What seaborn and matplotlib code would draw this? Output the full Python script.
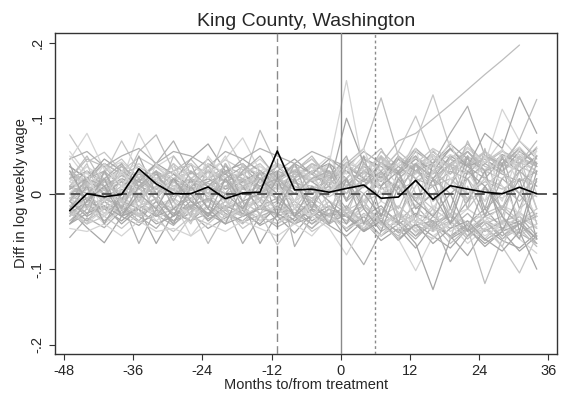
import matplotlib
matplotlib.use('Agg')
import matplotlib.pyplot as plt
import seaborn as sns
import pandas as pd
import numpy as np

# quarterly event time, months relative to treatment
months = [-47, -44, -41, -38, -35, -32, -29, -26, -23, -20, -17, -14, -11,
          -8, -5, -2, 1, 4, 7, 10, 13, 16, 19, 22, 25, 28, 31, 34]

# treated unit gap (King County), log points
king_gap = [-0.0225, 0.0, -0.004, -0.001, 0.033, 0.013, 0.0, 0.0, 0.009, -0.0066,
            0.001, 0.002, 0.0566, 0.005, 0.006, 0.002, 0.007, 0.0115, -0.006, -0.0044,
            0.0177, -0.0075, 0.0106, 0.0062, 0.002, 0.0, 0.0085, 0.0]

# placebo gaps, in thousandths of a log point
placebo_gaps = [
    [78, 42, 55, 30, 48, 35, 20, 38, 28, 45, 32, 25, 40, 28, 35, 18, 42, 30, 48, 25, 38, 52, 32, 48, 42, 58, 38, 62],
    [-58, -32, -45, -22, -38, -28, -42, -18, -33, -22, -38, -28, -44, -32, -22, -38, -28, -48, -32, -52, -42, -36, -58, -42, -62, -46, -52, -66],
    [45, 80, 32, 42, 22, 36, 26, 16, 32, 22, 28, 36, 22, 32, 18, 26, 38, 22, 42, 26, 48, 36, 58, 42, 32, 48, 52, 42],
    [-22, -45, -65, -30, -42, -22, -36, -26, -46, -32, -22, -42, -30, -52, -26, -42, -56, -36, -62, -46, -72, -42, -56, -82, -46, -62, -72, -52],
    [8, 22, 4, 16, -2, 20, 10, 4, 14, 0, 10, 20, 6, 14, 10, 4, 12, 8, 40, 70, 80, 99, 118, 138, 158, 177, 197, np.nan],
    [30, 12, 26, 70, 30, 16, 40, 20, 10, 30, 14, 26, 10, 20, 36, 14, 30, 10, 26, 46, 20, 40, 26, 50, 30, 20, 42, 30],
    [-36, -14, -30, -10, -66, -20, -40, -24, -10, -30, -16, -36, -20, -26, -10, -30, -16, -40, -20, -36, -56, -30, -46, -26, -50, -36, -40, -30],
    [56, 26, 40, 16, 80, 36, 50, 20, 36, 16, 30, 46, 24, 36, 20, 40, 26, 50, 30, 46, 26, 56, 36, 62, 40, 72, 46, 56],
    [-10, -30, -16, -40, -20, -66, -26, -36, -16, -30, -20, -10, -36, -20, -40, -26, -30, -50, -36, -62, -40, -56, -72, -46, -66, -50, -76, -56],
    [20, 46, 36, 10, 56, 78, 30, 46, 20, 36, 26, 40, 16, 30, 46, 26, 40, 20, 56, 36, 50, 30, 46, 66, 40, 56, 46, 36],
    [-30, -10, -36, -20, -10, -26, -62, -30, -16, -36, -10, -26, -16, -30, -14, -36, -22, -10, -40, -26, -46, -20, -36, -56, -30, -40, -24, -46],
    [10, 30, 16, 36, 20, 40, 70, 26, 46, 20, 36, 14, 30, 22, 40, 26, 10, 36, 22, 46, 30, 56, 36, 26, 50, 36, 60, 40],
    [-26, -40, -20, -36, -16, -30, -10, -56, -26, -40, -20, -36, -12, -30, -46, -20, -36, -16, -42, -26, -52, -36, -20, -46, -30, -56, -36, -26],
    [36, 20, 40, 26, 10, 30, 16, 46, 66, 30, 40, 20, 36, 16, 30, 40, 20, 46, 36, 26, 56, 40, 66, 46, 30, 52, 40, 60],
    [-16, -36, -20, -10, -30, -16, -36, -20, -66, -26, -40, -16, -30, -40, -20, -30, -46, -26, -40, -56, -30, -46, -36, -60, -40, -30, -52, -40],
    [26, 10, 30, 46, 20, 36, 16, 30, 20, 76, 36, 26, 40, 30, 46, 20, 36, 26, 50, 30, 40, 60, 46, 30, 56, 40, 30, 50],
    [-40, -20, -36, -16, -30, -46, -20, -36, -26, -16, -66, -30, -20, -36, -22, -40, -26, -16, -36, -50, -30, -46, -26, -56, -36, -46, -30, -56],
    [16, 36, 20, 30, 40, 20, 36, 14, 30, 46, 74, 30, 40, 26, 36, 20, 46, 30, 20, 40, 60, 36, 52, 40, 26, 46, 62, 36],
    [-20, -6, -26, -10, -20, -6, -30, -16, -6, -20, -10, -66, -26, -14, -36, -20, -50, -30, -16, -40, -26, -36, -56, -40, -20, -46, -36, -60],
    [30, 16, 40, 26, 36, 20, 30, 40, 20, 30, 16, 84, 36, 20, 40, 30, 20, 46, 30, 56, 36, 26, 46, 36, 56, 30, 46, 40],
    [-6, -26, -10, -30, -16, -6, -26, -14, -36, -20, -10, -26, -68, -36, -16, -30, -40, -20, -46, -26, -36, -50, -30, -40, -60, -36, -30, -46],
    [6, 20, 30, 10, 26, 16, 6, 20, 10, 30, 20, 10, 26, -70, -30, -10, -26, -46, -20, -36, -16, -40, -26, -50, -30, -20, -40, -26],
    [20, 6, 16, 30, 10, 26, 14, 30, 20, 6, 26, 14, 20, 36, 20, 40, 150, 30, 46, 20, 36, 50, 26, 40, 30, 50, 36, 26],
    [0, 16, 6, 20, 10, 0, 20, 6, 16, 26, 10, 20, 30, 46, 26, 10, 100, 40, 20, 50, 30, 40, 60, 36, 46, 30, 56, 40],
    [-10, 6, -6, 10, 0, 16, 6, -6, 10, 20, 0, 10, -6, 16, 30, 10, 40, 60, 127, 50, 30, 46, 26, 56, 36, 30, 50, 36],
    [10, -6, 6, -10, 16, 0, 10, 20, 0, 10, 26, 6, 16, 0, 20, 36, 16, 30, 50, 26, 70, 131, 60, 40, 56, 36, 46, 30],
    [0, 10, -10, 6, -6, 10, 0, 16, 6, -6, 10, 0, 20, 10, 0, 20, 30, 10, 40, 30, 60, 40, 80, 116, 50, 40, 70, 46],
    [16, 0, 10, 26, 6, 20, 10, 0, 20, 10, 6, 16, 0, 20, 6, 26, 10, 30, 16, 40, 26, 50, 36, 60, 40, 112, 70, 50],
    [6, 20, 0, 16, 6, 26, 0, 10, 20, 6, 16, 30, 10, 26, 16, 0, 36, 20, 10, 46, 30, 20, 50, 36, 80, 60, 128, 80],
    [-6, 10, 0, -10, 6, -6, 16, 0, -10, 10, 0, -6, 10, 0, -10, 6, 16, 0, 20, 10, 30, 16, 40, 26, 50, 36, 71, 125],
    [26, 10, 20, 0, 16, 30, 10, 20, 36, 16, 6, 20, 10, 26, 16, 30, 20, 46, 30, 56, 103, 46, 36, 56, 30, 46, 36, 26],
    [-20, -36, -10, -26, -6, -20, -36, -16, -26, -10, -30, -20, -10, -30, -46, -26, -60, -94, -50, -36, -56, -40, -30, -50, -36, -60, -40, -30],
    [-6, -20, -30, -10, -26, -16, -6, -30, -20, -36, -16, -6, -20, -10, -26, -36, -20, -46, -30, -60, -102, -56, -40, -66, -46, -36, -56, -40],
    [-26, -10, -20, -36, -16, -30, -20, -6, -36, -16, -26, -40, -16, -36, -20, -30, -46, -30, -56, -40, -66, -127, -60, -46, -70, -50, -40, -60],
    [0, -16, -6, -20, -30, -10, -20, -36, -6, -20, -30, -16, -26, -10, -26, -40, -20, -36, -56, -30, -50, -40, -66, -46, -119, -60, -46, -70],
    [-16, 0, -20, -6, -16, -26, -6, -20, -30, -10, -20, -6, -30, -20, -6, -20, -36, -16, -40, -26, -46, -60, -36, -56, -46, -70, -105, -56],
    [-10, -26, -6, -16, -36, -10, -26, -16, -6, -26, -36, -16, -6, -26, -40, -20, -30, -50, -26, -40, -60, -36, -90, -56, -36, -56, -40, -66],
    [-30, -16, -40, -20, -6, -36, -16, -26, -10, -30, -20, -30, -40, -20, -30, -46, -81, -40, -56, -30, -46, -26, -50, -36, -56, -40, -60, -79],
    [-40, -26, -16, -30, -20, -40, -30, -10, -26, -40, -30, -20, -26, -40, -30, -16, -30, -50, -36, -60, -40, -66, -46, -36, -60, -76, -50, -100],
    [10, -6, 16, 0, 20, 6, -4, 10, 0, 16, 6, 0, 14, 6, -6, 10, 0, 20, 6, 16, -6, 10, 20, 0, 16, 6, 20, 10],
    [-6, 6, -10, 4, -4, 10, 0, -10, 6, -4, 10, -6, 0, -10, 6, -4, 10, -10, 0, 10, -16, 0, 10, -10, 6, -6, 10, -4],
    [20, 30, 10, 24, 16, 6, 26, 10, 30, 16, 26, 10, 20, 30, 16, 24, 10, 30, 16, 36, 20, 10, 30, 20, 40, 26, 16, 30],
    [-20, -10, -26, -14, -6, -20, -10, -30, -16, -6, -20, -10, -26, -14, -30, -10, -20, -30, -10, -24, -40, -16, -30, -20, -36, -16, -26, -36],
    [36, 20, 46, 30, 16, 40, 26, 10, 40, 26, 46, 30, 16, 40, 26, 46, 30, 16, 40, 26, 46, 30, 60, 36, 20, 46, 30, 50],
    [0, 14, 20, -6, 10, 20, 4, 16, -4, 10, 20, 6, -6, 16, 4, 20, -6, 10, 26, 6, 16, 30, 10, -6, 20, 10, -10, 16],
    [-26, -40, -30, -46, -26, -36, -50, -30, -40, -20, -46, -30, -40, -26, -50, -36, -20, -40, -30, -16, -36, -50, -20, -40, -26, -16, -36, -20],
    [46, 56, 36, 50, 60, 40, 56, 50, 36, 56, 46, 60, 50, 40, 56, 46, 36, 56, 40, 30, 50, 20, 40, 56, 30, 40, 60, 36],
    [-46, -50, -40, -56, -36, -50, -46, -56, -40, -50, -36, -46, -56, -40, -56, -30, -46, -36, -20, -46, -30, -50, -40, -20, -36, -50, -26, -44],
    [40, -20, 30, -10, 50, 0, -30, 20, -20, 40, -10, 30, -30, 20, -20, 40, -10, 50, -30, 30, -40, 40, -20, 50, -30, 40, -50, 30],
    [-30, 20, -10, 40, -20, 30, 10, -30, 40, -10, 20, -30, 30, -20, 10, -30, 40, -20, 50, -30, 20, -50, 40, -20, 60, -30, 30, -40],
    [10, 40, -20, 20, -30, 10, 40, -10, 30, -20, 40, 0, 30, -10, 40, 10, -30, 30, -10, 50, 0, -30, 50, -10, 30, -40, 50, -20],
    [-10, -30, 30, -20, 20, -30, 0, 40, -10, 20, -30, 30, -10, 40, -20, 20, 50, -20, 30, -40, 40, 10, -30, 40, -20, 50, -20, 40],
    [20, 0, 40, 10, -20, 40, 10, -10, 50, 20, -10, 40, 10, -20, 30, 50, 10, -20, 40, 10, -20, 60, 20, -10, 50, 10, -30, 60],
    [-20, 10, -40, 0, 30, -10, -40, 10, -20, -40, 10, -20, 20, -30, -10, -40, 20, -20, -50, 10, -30, 20, -40, -10, 30, -50, 0, -30],
    [30, 10, 0, 30, -10, 20, 30, 0, -10, 30, 20, -10, 40, 10, -10, 30, 0, 40, 10, -20, 30, 10, 40, -20, 10, 30, 0, 20],
    [0, -20, 20, -10, 10, -20, 20, 30, 0, -20, 10, 30, -10, 0, 30, -20, 10, -10, 30, -30, 10, 40, -30, 20, -10, 20, 40, -20],
    [-10, 20, 10, -20, 30, 0, 20, -20, 10, 30, -20, 10, 20, 40, 0, 10, -20, 20, -40, 20, 40, -10, 10, 50, -20, 0, 30, 10],
    [50, 20, -10, 30, 0, -20, 30, 10, 40, 0, 30, -20, 10, -10, 20, 0, 40, -10, 20, 0, 60, -20, 20, 30, -10, 60, 10, -30],
    [-40, -10, 20, -30, 10, 30, -20, 0, -30, 20, -10, 0, -20, 20, -30, 0, 20, -40, 10, 30, -20, 0, -40, 30, 10, -20, 20, -60],
    [20, 50, 10, 0, 30, -10, 50, 20, 0, 40, 10, 20, -10, 30, 50, 20, 0, 40, 60, 20, -10, 30, 10, 70, 20, -20, 40, 70],
    [-20, -40, 0, -10, -30, 10, -10, -40, 10, -10, -30, 0, -20, -40, -10, 20, -30, -10, -40, -60, 0, -20, -60, 10, -40, -70, -20, 0],
    [10, 0, 20, 40, 10, 30, -10, 30, 10, 0, 30, 50, 20, 0, 20, 30, -10, 10, 30, 0, 40, 20, 0, 20, -30, 20, 0, 50],
    [0, 30, -30, 10, 40, 20, 0, 40, 20, 50, 0, 20, 40, 10, -30, 0, 30, 60, 0, 20, -40, 30, 70, 0, 20, -10, 60, 0],
    [30, -10, 10, -30, 0, -20, 20, -10, -30, 0, -20, 20, 0, -30, 10, -10, -40, 0, -30, 20, -10, -30, 0, -50, 10, -30, -60, 20],
]

x_ticks = [-48, -36, -24, -12, 0, 12, 24, 36]
x_tick_labels = ['-48', '-36', '-24', '-12', '0', '12', '24', '36']
y_ticks = [-0.2, -0.1, 0, 0.1, 0.2]
y_tick_labels = ['-.2', '-.1', '0', '.1', '.2']

sns.set_style('ticks')
plt.rcParams['font.family'] = ['Liberation Sans', 'DejaVu Sans']
plt.rcParams['axes.unicode_minus'] = False

rows = []
for i, gaps in enumerate(placebo_gaps):
    for m, g in zip(months, gaps):
        rows.append({'unit': i, 'month': m, 'gap': g / 1000})
df_placebo = pd.DataFrame(rows).dropna()
df_king = pd.DataFrame({'month': months, 'gap': king_gap})

grays = ['#c6c6c6', '#b0b0b0', '#d4d4d4', '#a6a6a6', '#bdbdbd']
palette = [grays[i % len(grays)] for i in range(len(placebo_gaps))]

fig = plt.figure(figsize=(5.61, 3.97), dpi=100)
ax = fig.add_axes([0.0975, 0.109, 0.8948, 0.807])

sns.lineplot(data=df_placebo, x='month', y='gap', hue='unit', palette=palette,
             estimator=None, legend=False, linewidth=0.9, ax=ax)

ax.axvline(0, color='#8a8a8a', linewidth=1.0, zorder=3)
ax.axvline(-11, color='#8a8a8a', linewidth=1.0, linestyle=(0, (6, 3)), zorder=3)
ax.axvline(6, color='#8a8a8a', linewidth=1.0, linestyle=(0, (2, 2)), zorder=3)
ax.axhline(0, color='#555555', linewidth=1.4, linestyle=(0, (5, 3)), zorder=4)

sns.lineplot(data=df_king, x='month', y='gap', color='black', linewidth=1.2,
             estimator=None, ax=ax, zorder=5)

ax.set_xlim(-49.6, 37.45)
ax.set_ylim(-0.212, 0.2125)
ax.set_xticks(x_ticks)
ax.set_xticklabels(x_tick_labels)
ax.set_yticks(y_ticks)
ax.set_yticklabels(y_tick_labels, rotation=90, va='center')
ax.tick_params(labelsize=10.5, length=4, width=0.8, color='#333333')
for s in ax.spines.values():
    s.set_visible(True)
    s.set_color('#333333')
    s.set_linewidth(1.0)

ax.set_title('King County, Washington', fontsize=14, pad=5)
ax.set_xlabel('Months to/from treatment', fontsize=10.5, labelpad=0)
ax.set_ylabel('Diff in log weekly wage', fontsize=10.5, labelpad=2)

fig.savefig('out.png', dpi=100)
